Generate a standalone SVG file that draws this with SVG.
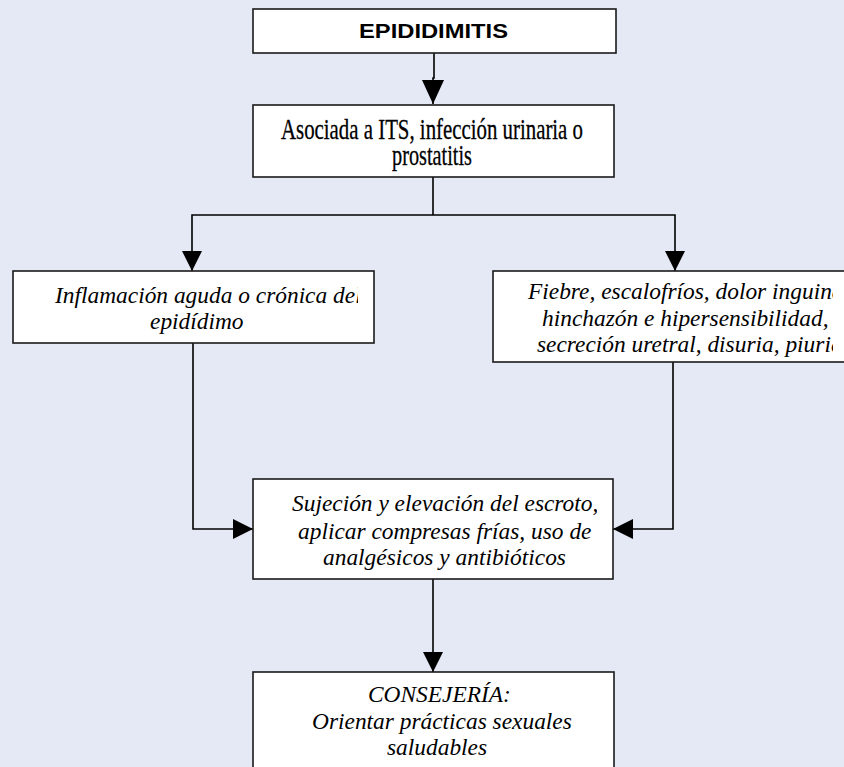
<svg xmlns="http://www.w3.org/2000/svg" width="844" height="767" viewBox="0 0 844 767">
  <style>
    .bg { fill: #e5e9f5; }
    .box { fill: #ffffff; stroke: #1a1a1a; stroke-width: 1.6; }
    .wire { fill: none; stroke: #000000; stroke-width: 1.6; }
    .title { font-family: "Liberation Sans", Arial, sans-serif; font-weight: bold; font-size: 20px; fill: #000; }
    .cond { font-family: "Liberation Serif", "Times New Roman", serif; font-size: 29px; fill: #000; stroke: #000; stroke-width: 0.3; }
    .ital { font-family: "Liberation Serif", "Times New Roman", serif; font-style: italic; font-size: 23.4px; fill: #000; }
  </style>
  <defs>
    <marker id="head" viewBox="0 0 20 20" refX="20" refY="10" markerWidth="20" markerHeight="20" markerUnits="userSpaceOnUse" orient="auto">
      <path d="M0,0 L20,10 L0,20 Z" fill="#000"/>
    </marker>
    <marker id="headBig" viewBox="0 0 24 22" refX="24" refY="11" markerWidth="24" markerHeight="22" markerUnits="userSpaceOnUse" orient="auto">
      <path d="M0,0 L24,11 L0,22 Z" fill="#000"/>
    </marker>
    <clipPath id="clipLeft"><rect x="14" y="272" width="344" height="70"/></clipPath>
    <clipPath id="clipRight"><rect x="494" y="272" width="339" height="89"/></clipPath>
    <clipPath id="clipMid"><rect x="254" y="480" width="343" height="98"/></clipPath>
  </defs>

  <rect class="bg" x="0" y="0" width="844" height="767"/>

  <!-- connectors -->
  <g id="connectors">
    <path class="wire" d="M434,53 V78 H433 V104" marker-end="url(#headBig)"/>
    <path class="wire" d="M433,177 V215"/>
    <path class="wire" d="M433,215 H192 V271" marker-end="url(#head)"/>
    <path class="wire" d="M433,215 H675 V271" marker-end="url(#head)"/>
    <path class="wire" d="M193,343 V529 H253" marker-end="url(#head)"/>
    <path class="wire" d="M673,362 V529 H613" marker-end="url(#head)"/>
    <path class="wire" d="M433,579 V672" marker-end="url(#head)"/>
  </g>

  <g id="node-epididimitis">
    <rect class="box" x="253" y="9" width="363" height="44"/>
    <text class="title" x="359" y="38" textLength="149" lengthAdjust="spacingAndGlyphs">EPIDIDIMITIS</text>
  </g>

  <g id="node-asociada">
    <rect class="box" x="253" y="105" width="361" height="72"/>
    <text class="cond">
      <tspan x="281" y="139" textLength="302" lengthAdjust="spacingAndGlyphs">Asociada a ITS, infección urinaria o</tspan>
      <tspan x="392" y="165" textLength="80" lengthAdjust="spacingAndGlyphs">prostatitis</tspan>
    </text>
  </g>

  <g id="node-inflamacion">
    <rect class="box" x="13" y="271" width="361" height="72"/>
    <g clip-path="url(#clipLeft)">
      <text class="ital" x="55" y="303">Inflamación aguda o crónica del</text>
      <text class="ital" x="150" y="329">epidídimo</text>
    </g>
  </g>

  <g id="node-sintomas">
    <rect class="box" x="493" y="271" width="366" height="91"/>
    <g clip-path="url(#clipRight)">
      <text class="ital" x="528" y="299">Fiebre, escalofríos, dolor inguinal,</text>
      <text class="ital" x="542" y="326">hinchazón e hipersensibilidad,</text>
      <text class="ital" x="537" y="352">secreción uretral, disuria, piuria</text>
    </g>
  </g>

  <g id="node-tratamiento">
    <rect class="box" x="253" y="479" width="360" height="100"/>
    <g clip-path="url(#clipMid)">
      <text class="ital" x="292" y="511">Sujeción y elevación del escroto,</text>
      <text class="ital" x="298" y="539">aplicar compresas frías, uso de</text>
      <text class="ital" x="323" y="565">analgésicos y antibióticos</text>
    </g>
  </g>

  <g id="node-consejeria">
    <rect class="box" x="253" y="672" width="361" height="110"/>
    <text class="ital" x="368" y="702">CONSEJERÍA:</text>
    <text class="ital" x="312" y="729">Orientar prácticas sexuales</text>
    <text class="ital" x="387" y="755">saludables</text>
  </g>
</svg>
